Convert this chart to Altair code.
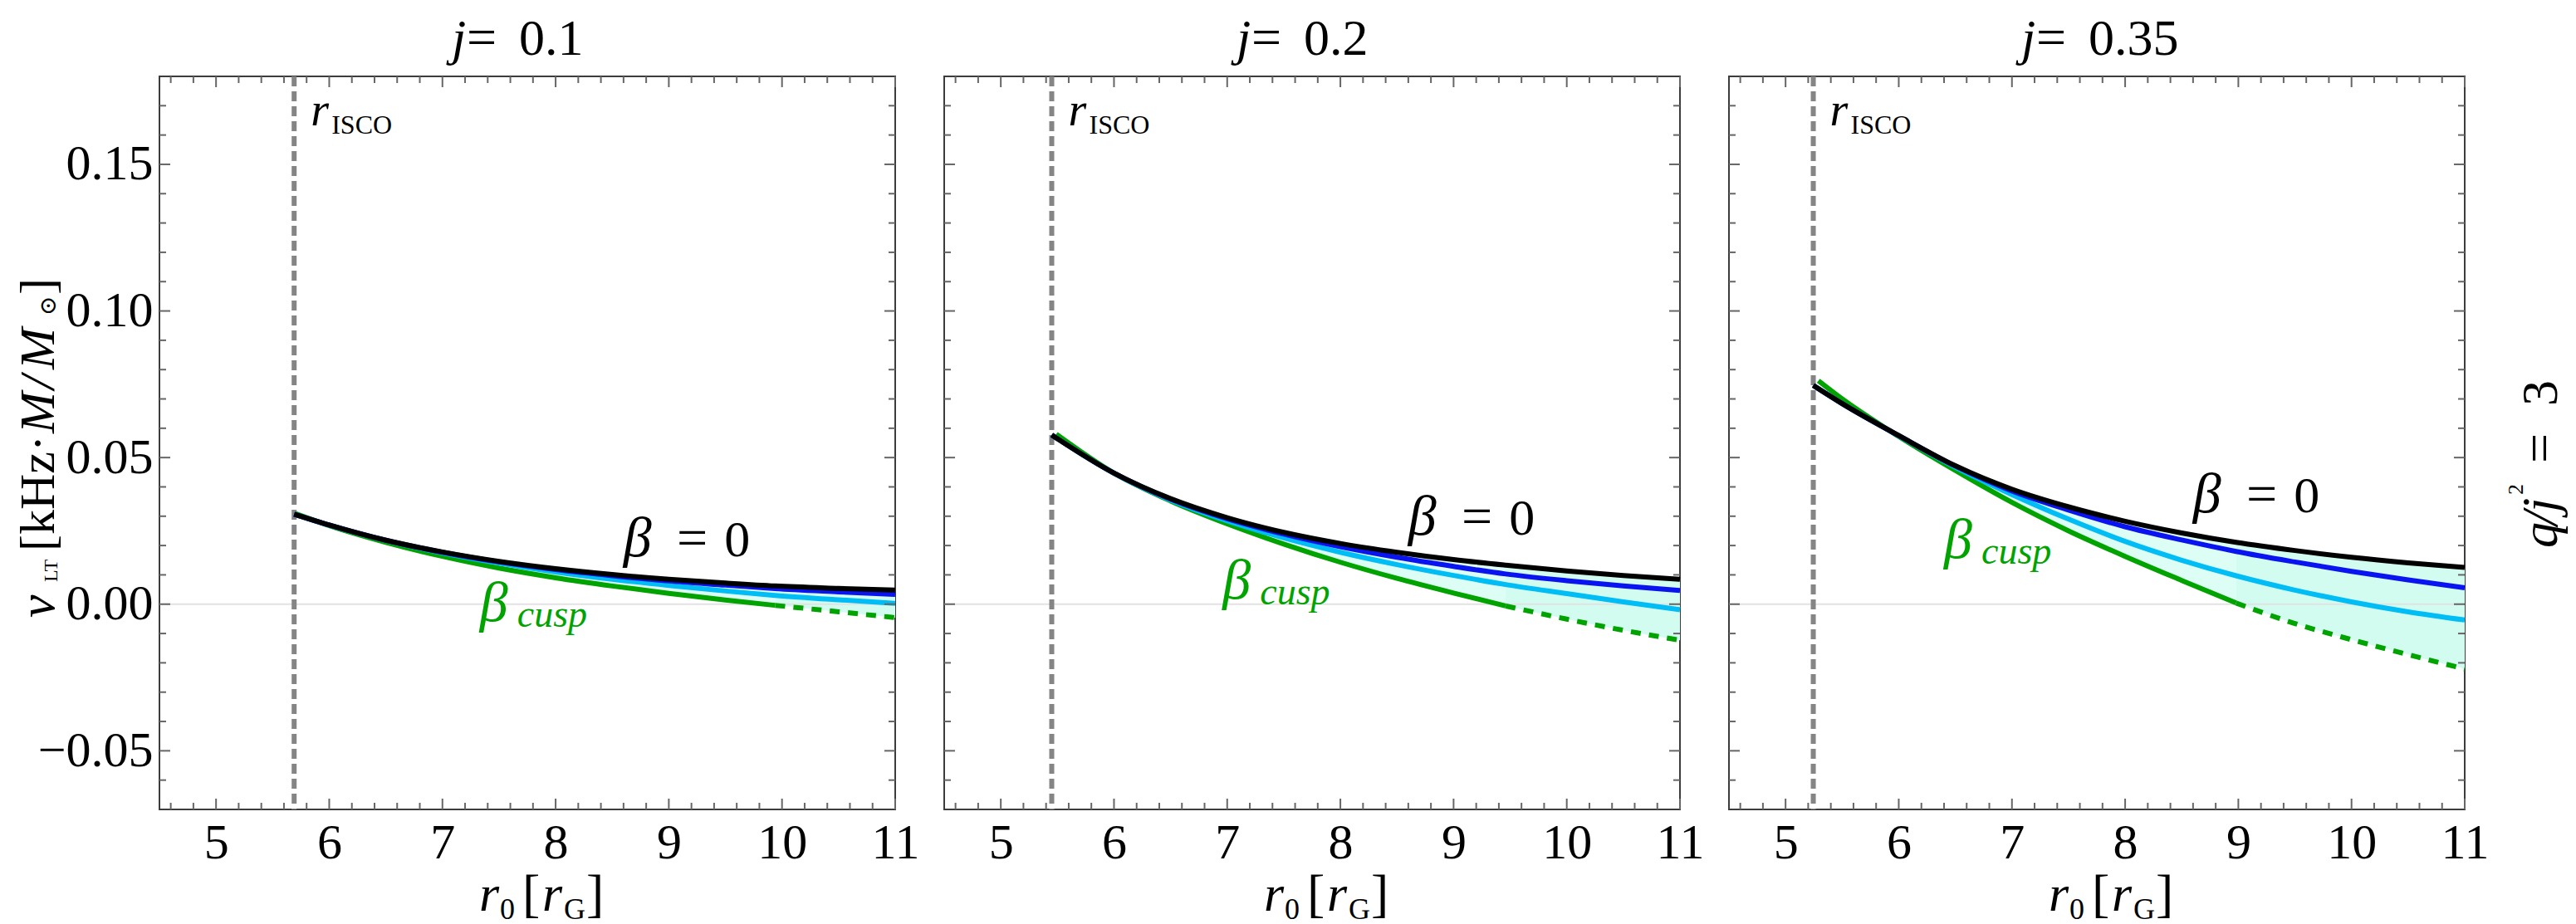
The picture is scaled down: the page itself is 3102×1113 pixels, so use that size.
import altair as alt
import pandas as pd

# ---------------- data ----------------
X_DOMAIN = [4.5, 11]
Y_DOMAIN = [-0.07, 0.18]

J_LABELS = ["0.1", "0.2", "0.35"]
R_ISCO = [5.69, 5.45, 5.245]

# panel 1 : j = 0.1
P1_R = [5.69, 6, 6.5, 7, 7.5, 8, 8.5, 9, 9.5, 9.94, 10.5, 11]
P1_BLACK = [0.0307, 0.0270, 0.0218, 0.0178, 0.0146, 0.0121, 0.0101, 0.0085, 0.0072, 0.0062, 0.0054, 0.0048]
P1_BLUE = [0.0307, 0.0270, 0.0218, 0.0177, 0.0144, 0.0118, 0.0097, 0.0079, 0.0065, 0.0053, 0.0042, 0.0033]
P1_CYAN = [0.0307, 0.0269, 0.0217, 0.0175, 0.0140, 0.0110, 0.0085, 0.0064, 0.0045, 0.0030, 0.0015, 0.0003]
P1_GREEN = [0.0268, 0.0211, 0.0163, 0.0123, 0.0090, 0.0062, 0.0037, 0.0014, -0.0004, -0.0026, -0.0046]
P1_GREEN_START = [5.70, 0.0309]
P1_SPLIT = 9.94

# panel 2 : j = 0.2
P2_R = [5.45, 6, 6.5, 7, 7.5, 8, 8.5, 9, 9.46, 10, 10.5, 11]
P2_BLACK = [0.0577, 0.0447, 0.0360, 0.0295, 0.0245, 0.0207, 0.0177, 0.0152, 0.0133, 0.0113, 0.0098, 0.0085]
P2_BLUE = [0.0577, 0.0447, 0.0358, 0.0291, 0.0239, 0.0196, 0.0160, 0.0129, 0.0103, 0.0080, 0.0062, 0.0047]
P2_CYAN = [0.0577, 0.0446, 0.0355, 0.0284, 0.0226, 0.0177, 0.0135, 0.0098, 0.0067, 0.0036, 0.0008, -0.0019]
P2_GREEN = [0.0447, 0.0352, 0.0274, 0.0205, 0.0143, 0.0088, 0.0038, -0.0006, -0.0051, -0.0089, -0.0123]
P2_GREEN_START = [5.49, 0.0580]
P2_SPLIT = 9.46

# panel 3 : j = 0.35
P3_R = [5.245, 5.5, 6, 6.5, 7, 7.5, 8, 8.5, 8.98, 9.5, 10, 10.5, 11]
P3_BLACK = [0.0746, 0.0684, 0.0575, 0.0472, 0.0392, 0.0332, 0.0283, 0.0243, 0.0211, 0.0183, 0.0160, 0.0141, 0.0125]
P3_BLUE = [0.0746, 0.0684, 0.0575, 0.0471, 0.0386, 0.0321, 0.0264, 0.0219, 0.0180, 0.0144, 0.0112, 0.0083, 0.0056]
P3_CYAN = [0.0746, 0.0684, 0.0574, 0.0467, 0.0374, 0.0290, 0.0214, 0.0150, 0.0097, 0.0048, 0.0008, -0.0026, -0.0054]
P3_GREEN = [0.0700, 0.0572, 0.0456, 0.0347, 0.0250, 0.0163, 0.0081, 0.0004, -0.0066, -0.0121, -0.0172, -0.0221]
P3_GREEN_START = [5.29, 0.0762]
P3_SPLIT = 8.98

# annotation anchors (data units)
BETA0_Y = [0.0164, 0.0237, 0.0313]
BETA0_X = [8.60, 9.07, 9.49]          # beta, "=", "0"
BCUSP_X = [7.33, 6.96, 6.40]
BCUSP_Y = [-0.0056, 0.0018, 0.0158]
RISCO_Y = [0.1634, 0.1604]            # "r" baseline, "ISCO" baseline

# ticks
X_MAJOR = [5, 6, 7, 8, 9, 10, 11]
X_MINOR = [round(4.6 + 0.2 * i, 1) for i in range(33) if abs(round(4.6 + 0.2 * i, 1) % 1) > 1e-9]
Y_MAJOR = [-0.05, 0.0, 0.05, 0.10, 0.15]
Y_MINOR = [round(-0.06 + 0.01 * i, 2) for i in range(24) if (i + 4) % 5 != 0]

# ---------------- style ----------------
W = 886
H = 883
FONT = "Liberation Serif, Times New Roman, Times, serif"
C_BLACK = "#000000"
C_BLUE = "#0A14F0"
C_CYAN = "#00BEF5"
C_GREEN = "#00A300"
C_FILL_A = "#DCFEF5"
C_FILL_B = "#D3FCF0"
C_TICK = "#666666"
LW = 6

xs = alt.Scale(domain=X_DOMAIN, nice=False, zero=False)
ys = alt.Scale(domain=Y_DOMAIN, nice=False, zero=False)

x_axis = alt.Axis(values=X_MAJOR, format="d", ticks=False, domain=False, grid=False,
                  labelFont=FONT, labelFontSize=60, labelColor="black", labelPadding=11,
                  labelFlush=False, labelOverlap=False, title=None)
y_axis = alt.Axis(values=Y_MAJOR, format=".2f", ticks=False, domain=False, grid=False,
                  labelFont=FONT, labelFontSize=60, labelColor="black", labelPadding=8,
                  labelFlush=False, labelOverlap=False, title=None)

ONE = pd.DataFrame({"k": [0]})


def X(field="x"):
    return alt.X(f"{field}:Q", scale=xs, axis=x_axis)


def Y(field, show):
    return alt.Y(f"{field}:Q", scale=ys, axis=y_axis if show else None)


def txt_px(s, x, y, size, italic=False, color="black", angle=0, font=FONT):
    kw = dict(text=s, font=font, fontSize=size, color=color, align="left", baseline="alphabetic")
    if italic:
        kw["fontStyle"] = "italic"
    if angle:
        kw["angle"] = angle
    return alt.Chart(ONE).mark_text(**kw).encode(x=alt.value(x), y=alt.value(y))


def txt_data(s, xv, yv, size, show, italic=False, color="black", dx=0, font=FONT):
    kw = dict(text=s, font=font, fontSize=size, color=color, align="left", baseline="alphabetic")
    if italic:
        kw["fontStyle"] = "italic"
    if dx:
        kw["dx"] = dx
    d = pd.DataFrame({"x": [xv], "y": [yv]})
    return alt.Chart(d).mark_text(**kw).encode(x=X("x"), y=Y("y", show))


def line(d, color, show, dash=None, width=LW):
    kw = dict(color=color, strokeWidth=width, interpolate="monotone", strokeCap="butt")
    if dash:
        kw["strokeDash"] = dash
    return alt.Chart(d).mark_line(**kw).encode(x=X("x"), y=Y("y", show))


def panel(i, R, BLACK, BLUE, CYAN, GREEN, GSTART, SPLIT, show_y):
    k = R.index(SPLIT)
    risco = R_ISCO[i]
    layers = []
    # filled band between beta=0 and beta_cusp
    a1 = pd.DataFrame({"x": R[1:k + 1], "lo": GREEN[:k], "hi": BLACK[1:k + 1]})
    a2 = pd.DataFrame({"x": R[k:], "lo": GREEN[k - 1:], "hi": BLACK[k:]})
    for d, c in ((a1, C_FILL_A), (a2, C_FILL_B)):
        layers.append(alt.Chart(d).mark_area(color=c, interpolate="monotone").encode(
            x=X("x"), y=Y("lo", show_y), y2=alt.Y2("hi:Q")))
    # zero line
    layers.append(alt.Chart(pd.DataFrame({"t": [0.0]})).mark_rule(color="#e2e2e2", strokeWidth=2).encode(
        y=Y("t", show_y)))
    # r_ISCO dashed line
    layers.append(alt.Chart(pd.DataFrame({"t": [risco]})).mark_rule(
        color="#858585", strokeWidth=6, strokeDash=[12, 6]).encode(x=X("t")))
    # curves
    g_solid = pd.DataFrame({"x": [GSTART[0]] + R[1:k + 1], "y": [GSTART[1]] + GREEN[:k]})
    g_dash = pd.DataFrame({"x": R[k:], "y": GREEN[k - 1:]})
    layers.append(line(g_dash, C_GREEN, show_y, dash=[12, 10]))
    layers.append(line(g_solid, C_GREEN, show_y))
    layers.append(line(pd.DataFrame({"x": R, "y": CYAN}), C_CYAN, show_y))
    layers.append(line(pd.DataFrame({"x": R, "y": BLUE}), C_BLUE, show_y))
    layers.append(line(pd.DataFrame({"x": R, "y": BLACK}), C_BLACK, show_y))
    # inward ticks on all four sides
    for vals, L in ((X_MAJOR, 13), (X_MINOR, 8)):
        d = pd.DataFrame({"t": vals})
        layers.append(alt.Chart(d).mark_rule(color=C_TICK, strokeWidth=2).encode(
            x=X("t"), y=alt.value(0), y2=alt.value(L)))
        layers.append(alt.Chart(d).mark_rule(color=C_TICK, strokeWidth=2).encode(
            x=X("t"), y=alt.value(H), y2=alt.value(H - L)))
    for vals, L in ((Y_MAJOR, 13), (Y_MINOR, 8)):
        d = pd.DataFrame({"t": vals})
        layers.append(alt.Chart(d).mark_rule(color=C_TICK, strokeWidth=2).encode(
            y=Y("t", show_y), x=alt.value(0), x2=alt.value(L)))
        layers.append(alt.Chart(d).mark_rule(color=C_TICK, strokeWidth=2).encode(
            y=Y("t", show_y), x=alt.value(W), x2=alt.value(W - L)))
    # r_ISCO label
    layers.append(txt_data("r", risco, RISCO_Y[0], 56, show_y, italic=True, dx=20))
    layers.append(txt_data("ISCO", risco, RISCO_Y[1], 32, show_y, dx=45))
    # beta = 0
    layers.append(txt_data("β", BETA0_X[0], BETA0_Y[i], 68, show_y, italic=True))
    layers.append(txt_data("=", BETA0_X[1], BETA0_Y[i], 66, show_y))
    layers.append(txt_data("0", BETA0_X[2], BETA0_Y[i], 62, show_y))
    # beta cusp
    layers.append(txt_data("β", BCUSP_X[i], BCUSP_Y[i], 68, show_y, italic=True, color=C_GREEN))
    layers.append(txt_data("cusp", BCUSP_X[i] + 0.33, BCUSP_Y[i] - 0.002, 46, show_y,
                           italic=True, color=C_GREEN))
    # panel title  j= ...
    layers.append(txt_px("j", 352, -26, 62, italic=True))
    layers.append(txt_px("=", 370, -26, 64))
    layers.append(txt_px(J_LABELS[i], 433, -26, 62))
    # x axis title  r0 [rG]
    layers.append(txt_px("r", 385, 1005, 62, italic=True))
    layers.append(txt_px("0", 410, 1015, 36))
    layers.append(txt_px("[", 437, 1005, 64))
    layers.append(txt_px("r", 461, 1005, 62, italic=True))
    layers.append(txt_px("G", 487, 1015, 36))
    layers.append(txt_px("]", 514, 1005, 64))
    if show_y:
        bx = -127
        layers.append(txt_px("ν", bx, 652, 62, italic=True, angle=270))
        layers.append(txt_px("LT", bx + 4, 609, 24, angle=270))
        layers.append(txt_px("[kHz·", bx, 572, 60, angle=270))
        layers.append(txt_px("M", bx, 430, 60, italic=True, angle=270))
        layers.append(txt_px("/", bx, 377, 60, italic=True, angle=270))
        layers.append(txt_px("M", bx, 353, 60, italic=True, angle=270))
        layers.append(txt_px("⊙", bx + 2, 288, 28, angle=270, font="DejaVu Serif"))
        layers.append(txt_px("]", bx, 263, 60, angle=270))
    if i == 2:
        bx = 997
        layers.append(txt_px("q", bx, 568, 62, italic=True, angle=270))
        layers.append(txt_px("/", bx, 541, 62, italic=True, angle=270))
        layers.append(txt_px("j", bx, 525, 62, italic=True, angle=270))
        layers.append(txt_px("2", bx - 41, 504, 26, angle=270))
        layers.append(txt_px("=", bx, 466, 64, angle=270))
        layers.append(txt_px("3", bx, 397, 62, angle=270))
    return alt.layer(*layers).properties(width=W, height=H)


p1 = panel(0, P1_R, P1_BLACK, P1_BLUE, P1_CYAN, P1_GREEN, P1_GREEN_START, P1_SPLIT, True)
p2 = panel(1, P2_R, P2_BLACK, P2_BLUE, P2_CYAN, P2_GREEN, P2_GREEN_START, P2_SPLIT, False)
p3 = panel(2, P3_R, P3_BLACK, P3_BLUE, P3_CYAN, P3_GREEN, P3_GREEN_START, P3_SPLIT, False)

chart = alt.hconcat(p1, p2, p3, spacing=59, bounds="flush").properties(
    padding={"left": 6, "top": 6, "right": 0, "bottom": 0},
    background="white",
).configure_view(stroke="#3c3c3c", strokeWidth=2)

chart.save("out.html", embed_options={"renderer": "svg", "actions": False})
